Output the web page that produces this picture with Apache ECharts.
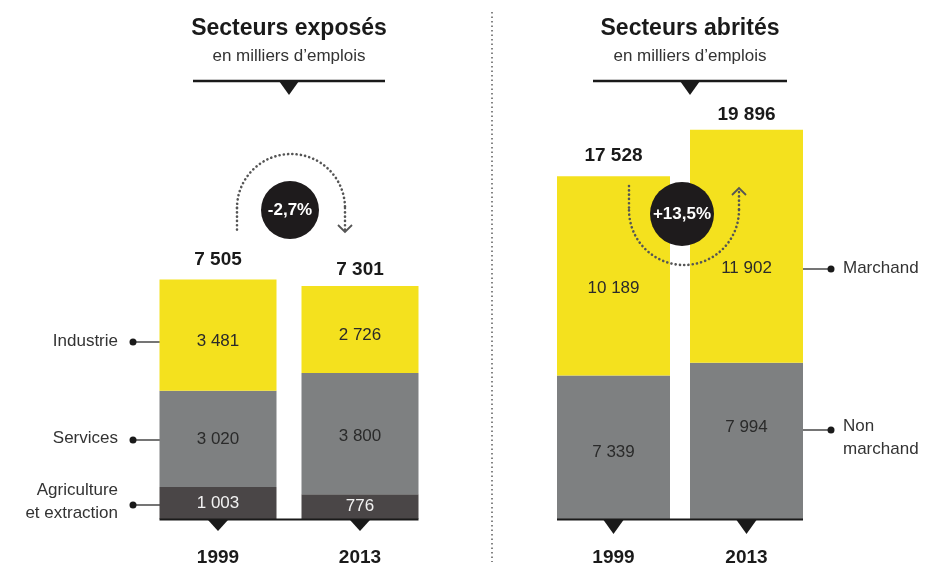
<!DOCTYPE html>
<html><head><meta charset="utf-8">
<script src="https://cdn.jsdelivr.net/npm/echarts@6/dist/echarts.min.js"></script>
<style>html,body{margin:0;padding:0;background:#fff}#c{width:931px;height:567px}</style>
</head><body><div id="c"></div>
<script>
const years = ['1999', '2013'];
const agriculture = [1003, 776];
const services = [3020, 3800];
const industrie = [3481, 2726];
const totalExposes = [7505, 7301];
const nonMarchand = [7339, 7994];
const marchand = [10189, 11902];
const totalAbrites = [17528, 19896];
const changeExposes = '-2,7%';
const changeAbrites = '+13,5%';

const BOLD = "'Liberation Sans',Arial,sans-serif";
const SANS = "'Liberation Sans',Arial,sans-serif";
const YELLOW = '#f4e11e', GRAY = '#7e8081', DARK = '#4a4647', INK = '#1a1a1a';

const fmt = v => String(v).replace(/\B(?=(\d{3})+(?!\d))/g, ' ');

function seg(name, vals, color, gi, offs, txt) {
  return {
    type: 'bar', name, stack: 's' + gi, xAxisIndex: gi, yAxisIndex: gi,
    barWidth: gi === 0 ? 117 : 113,
    itemStyle: { color },
    data: vals.map((v, i) => ({ value: v, label: { offset: [0, offs[i]] } })),
    label: { show: true, position: 'inside', formatter: p => fmt(p.value),
      fontFamily: SANS, fontSize: 17, color: txt || '#2a2a2a' }
  };
}
function totals(vals, gi, offs) {
  const lab = { show: true, position: 'top', distance: 10, formatter: p => fmt(p.value[1]),
    fontFamily: BOLD, fontWeight: 'bold', fontSize: 19, color: INK, opacity: 1 };
  return {
    type: 'scatter', xAxisIndex: gi, yAxisIndex: gi, symbolSize: 1, z: 5,
    itemStyle: { color: 'rgba(0,0,0,0)', opacity: 1 },
    data: vals.map((v, i) => ({ value: [years[i], v], label: Object.assign({}, lab, { offset: [0, offs[i]] }) })),
    label: lab
  };
}
function ticks(gi, h) {
  return {
    type: 'scatter', xAxisIndex: gi, yAxisIndex: gi, z: 6,
    symbol: 'path://M0,0 L20,0 L10,13 Z', symbolSize: [20, h], symbolOffset: [0, h / 2 + 1],
    itemStyle: { color: INK, opacity: 1 }, silent: true,
    data: years.map(y => [y, 0])
  };
}
const xAx = gi => ({ type: 'category', gridIndex: gi, data: years,
  axisLine: { show: false }, axisTick: { show: false },
  axisLabel: { margin: 29, fontFamily: BOLD, fontWeight: 'bold', fontSize: 19, color: INK } });
const yAx = (gi, max) => ({ type: 'value', gridIndex: gi, min: 0, max, show: false, splitLine: { show: false } });

const chart = echarts.init(document.getElementById('c'));
const dotted = { stroke: '#555', lineWidth: 2.6, lineDash: [0.1, 4.2], lineCap: 'round', fill: null };

function legendText(x, y, text, align) {
  return { type: 'text', x, y, style: { text, font: '17px ' + SANS, fill: '#333', align, verticalAlign: 'middle', lineHeight: 23 } };
}
function connector(x1, x2, y) {
  return [
    { type: 'line', shape: { x1, y1: y, x2, y2: y }, style: { stroke: INK, lineWidth: 1.2 } },
    { type: 'circle', shape: { cx: x1 < 150 ? x1 : x2, cy: y, r: 3.5 }, style: { fill: INK } }
  ];
}

const graphics = [
  { type: 'line', shape: { x1: 492, y1: 12, x2: 492, y2: 562 }, style: { stroke: '#666', lineWidth: 1.6, lineDash: [1.5, 3] } },
  { type: 'text', x: 289, y: 29, style: { text: 'Secteurs exposés', font: 'bold 23px ' + BOLD, fill: INK, align: 'center', verticalAlign: 'middle' } },
  { type: 'text', x: 289, y: 56, style: { text: 'en milliers d\u2019emplois', font: '17px ' + SANS, fill: '#333', align: 'center', verticalAlign: 'middle' } },
  { type: 'line', shape: { x1: 193, y1: 81, x2: 385, y2: 81 }, style: { stroke: INK, lineWidth: 2.5 } },
  { type: 'polygon', shape: { points: [[279, 81], [299, 81], [289, 95]] }, style: { fill: INK } },
  { type: 'text', x: 690, y: 29, style: { text: 'Secteurs abrités', font: 'bold 23px ' + BOLD, fill: INK, align: 'center', verticalAlign: 'middle' } },
  { type: 'text', x: 690, y: 56, style: { text: 'en milliers d\u2019emplois', font: '17px ' + SANS, fill: '#333', align: 'center', verticalAlign: 'middle' } },
  { type: 'line', shape: { x1: 593, y1: 81, x2: 787, y2: 81 }, style: { stroke: INK, lineWidth: 2.5 } },
  { type: 'polygon', shape: { points: [[680, 81], [700, 81], [690, 95]] }, style: { fill: INK } },
  { type: 'arc', z: 10, shape: { cx: 291, cy: 208, r: 54, startAngle: Math.PI, endAngle: 2 * Math.PI, clockwise: true }, style: dotted },
  { type: 'line', z: 10, shape: { x1: 237, y1: 208, x2: 237, y2: 233 }, style: dotted },
  { type: 'line', z: 10, shape: { x1: 345, y1: 208, x2: 345, y2: 230 }, style: dotted },
  { type: 'polyline', z: 10, shape: { points: [[338, 225], [345, 232], [352, 225]] }, style: { stroke: '#555', lineWidth: 1.8, fill: null } },
  { type: 'circle', z: 11, shape: { cx: 290, cy: 210, r: 29 }, style: { fill: '#1e1b1c' } },
  { type: 'text', z: 12, x: 290, y: 210, style: { text: changeExposes, font: 'bold 17px ' + BOLD, fill: '#fff', align: 'center', verticalAlign: 'middle' } },
  { type: 'arc', z: 10, shape: { cx: 684, cy: 210, r: 55, startAngle: 0, endAngle: Math.PI, clockwise: true }, style: dotted },
  { type: 'line', z: 10, shape: { x1: 629, y1: 186, x2: 629, y2: 210 }, style: dotted },
  { type: 'line', z: 10, shape: { x1: 739, y1: 192, x2: 739, y2: 210 }, style: dotted },
  { type: 'polyline', z: 10, shape: { points: [[732, 195], [739, 188], [746, 195]] }, style: { stroke: '#555', lineWidth: 1.8, fill: null } },
  { type: 'circle', z: 11, shape: { cx: 682, cy: 214, r: 32 }, style: { fill: '#1e1b1c' } },
  { type: 'text', z: 12, x: 682, y: 214, style: { text: changeAbrites, font: 'bold 17px ' + BOLD, fill: '#fff', align: 'center', verticalAlign: 'middle' } },
  legendText(118, 341, 'Industrie', 'right'),
  ...connector(133, 160, 342),
  legendText(118, 438, 'Services', 'right'),
  ...connector(133, 160, 440),
  legendText(118, 502, 'Agriculture\net extraction', 'right'),
  ...connector(133, 160, 505),
  legendText(843, 268, 'Marchand', 'left'),
  ...connector(803, 831, 269),
  legendText(843, 438, 'Non\nmarchand', 'left'),
  ...connector(803, 831, 430)
];

chart.setOption({
  animation: false,
  grid: [
    { left: 147, width: 284, top: 200, height: 319 },
    { left: 547, width: 266, top: 30, height: 489 }
  ],
  xAxis: [xAx(0), xAx(1)],
  yAxis: [yAx(0, 10000), yAx(1, 25000)],
  series: [
    seg('Agriculture et extraction', agriculture, DARK, 0, [0, 0], '#f2f2f2'),
    seg('Services', services, GRAY, 0, [0, 3]),
    seg('Industrie', industrie, YELLOW, 0, [6, 6]),
    totals(totalExposes, 0, [0, 4]),
    ticks(0, 11),
    seg('Non marchand', nonMarchand, GRAY, 1, [5, -14]),
    seg('Marchand', marchand, YELLOW, 1, [13, 22]),
    totals(totalAbrites, 1, [0, 5]),
    ticks(1, 14)
  ],
  graphic: graphics
});

function baseline(gi, bw) {
  const a = chart.convertToPixel({ gridIndex: gi }, [years[0], 0]);
  const b = chart.convertToPixel({ gridIndex: gi }, [years[1], 0]);
  return { type: 'line', z: 7, shape: { x1: a[0] - bw / 2, y1: a[1] + 0.5, x2: b[0] + bw / 2, y2: b[1] + 0.5 }, style: { stroke: INK, lineWidth: 2 } };
}
chart.setOption({ graphic: graphics.concat([baseline(0, 117), baseline(1, 113)]) });
</script></body></html>
